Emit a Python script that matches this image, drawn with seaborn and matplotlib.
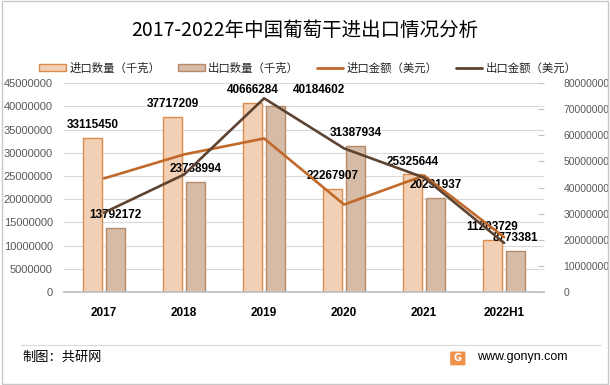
import numpy as np
import pandas as pd
import matplotlib
matplotlib.use('Agg')
import matplotlib.pyplot as plt
from matplotlib.patches import Patch, Rectangle, FancyBboxPatch
from matplotlib.lines import Line2D
import seaborn as sns

years = ['2017', '2018', '2019', '2020', '2021', '2022H1']
import_qty = [33115450, 37717209, 40666284, 22267907, 25325644, 11203729]
export_qty = [13792172, 23738994, 40184602, 31387934, 20231937, 8773381]
import_amt = [43500000, 52700000, 58800000, 33500000, 44600000, 21000000]
export_amt = [30400000, 45000000, 74200000, 55000000, 43800000, 18800000]

qty_names = ['进口数量（千克）', '出口数量（千克）']
amt_names = ['进口金额（美元）', '出口金额（美元）']

bar_fill = ['#F1D0B6', '#D6BBA6']
bar_edge = ['#D98C4E', '#B58B6C']
line_cols = ['#C0692A', '#5E4331']

sns.set_theme(style='white')
plt.rcParams['font.family'] = ['Noto Sans CJK SC', 'DejaVu Sans']
num_font = 'Liberation Sans'

qty = pd.DataFrame({
    'year': years * 2,
    'value': import_qty + export_qty,
    'kind': [qty_names[0]] * len(years) + [qty_names[1]] * len(years),
})

fig = plt.figure(figsize=(6.1, 3.85), dpi=100)
ax = fig.add_axes([0.105, 0.2416, 0.787, 0.5424])

sns.barplot(data=qty, x='year', y='value', hue='kind', order=years,
            hue_order=qty_names, palette=bar_fill, width=0.58, gap=0.17,
            ax=ax, legend=False, saturation=1)
label_sets = []
for cont, ec in zip(ax.containers, bar_edge):
    for p in cont:
        p.set_edgecolor(ec)
        p.set_linewidth(1.0)
    labs = ax.bar_label(cont, fmt='%d', fontsize=8.5, fontweight='bold',
                        color='black', padding=5, family=num_font)
    label_sets.append(labs)

# nudge an export label sideways where it would collide with the import label
for i, (a, b) in enumerate(zip(import_qty, export_qty)):
    if abs(a - b) < 1000000:
        lab = label_sets[1][i]
        ox, oy = lab.xyann
        lab.xyann = (ox + 31, oy + 2)

ax.set_xlim(-0.5, len(years) - 0.5)
ax.set_ylim(0, 45000000)
ax.set_yticks(np.arange(0, 45000001, 5000000))
ax.set_yticklabels([f'{int(v)}' for v in ax.get_yticks()], fontsize=8,
                   color='#595959', family=num_font)
ax.yaxis.grid(True, color='#D9D9D9', linewidth=0.8)
ax.set_axisbelow(True)
ax.set_xlabel('')
ax.set_ylabel('')
ax.tick_params(axis='x', length=0, pad=11)
ax.tick_params(axis='y', length=0, pad=8)
for lab in ax.get_xticklabels():
    lab.set_fontweight('bold')
    lab.set_fontsize(8.5)
    lab.set_family(num_font)
    lab.set_color('black')
for s in ['left', 'right', 'top']:
    ax.spines[s].set_visible(False)
ax.spines['bottom'].set_color('#BFBFBF')

ax2 = ax.twinx()
amt = pd.DataFrame({'pos': np.arange(len(years)), 'imp': import_amt, 'exp': export_amt})
sns.lineplot(data=amt, x='pos', y='imp', color=line_cols[0], linewidth=1.9, ax=ax2)
sns.lineplot(data=amt, x='pos', y='exp', color=line_cols[1], linewidth=1.9, ax=ax2)
ax2.set_ylim(0, 80000000)
ax2.set_yticks(np.arange(0, 80000001, 10000000))
ax2.set_yticklabels([f'{int(v)}' for v in ax2.get_yticks()], fontsize=7.5,
                    color='#595959', family=num_font)
ax2.tick_params(axis='y', length=4, direction='in', color='#BFBFBF', width=0.8,
                pad=14)
ax2.set_ylabel('')
ax2.set_xlabel('')
for s in ['left', 'right', 'top', 'bottom']:
    ax2.spines[s].set_visible(False)
ax2.set_xlim(-0.5, len(years) - 0.5)

handles = [
    Patch(facecolor=bar_fill[0], edgecolor=bar_edge[0], label=qty_names[0]),
    Patch(facecolor=bar_fill[1], edgecolor=bar_edge[1], label=qty_names[1]),
    Line2D([0], [0], color=line_cols[0], lw=2, label=amt_names[0]),
    Line2D([0], [0], color=line_cols[1], lw=2, label=amt_names[1]),
]
fig.legend(handles=handles, loc='center', bbox_to_anchor=(0.505, 0.823), ncol=4,
           frameon=False, fontsize=8.2, handlelength=2.3, handleheight=0.6,
           columnspacing=1.6, handletextpad=0.3)

fig.text(0.5, 0.922, '2017-2022年中国葡萄干进出口情况分析', ha='center',
         va='center', fontsize=14, color='black')

# footer
fig.add_artist(Line2D([0.034, 0.985], [0.104, 0.104], color='#D9D9D9', lw=0.8,
                      transform=fig.transFigure))
fig.text(0.037, 0.072, '制图：共研网', fontsize=9.5, va='center', color='black')
fig.add_artist(FancyBboxPatch((0.74, 0.053), 0.021, 0.032,
                              boxstyle='round,pad=0.002', transform=fig.transFigure,
                              facecolor='#F0924A', edgecolor='none'))
fig.text(0.7505, 0.069, 'G', fontsize=7, fontweight='bold', color='white',
         ha='center', va='center', family='DejaVu Sans')
fig.text(0.782, 0.072, 'www.gonyn.com', fontsize=9, va='center', color='black',
         family=num_font)

# outer border
fig.add_artist(Rectangle((0.003, 0.003), 0.994, 0.994, transform=fig.transFigure,
                         fill=False, edgecolor='#C8C8C8', lw=1))

fig.savefig('out.png', dpi=100)
